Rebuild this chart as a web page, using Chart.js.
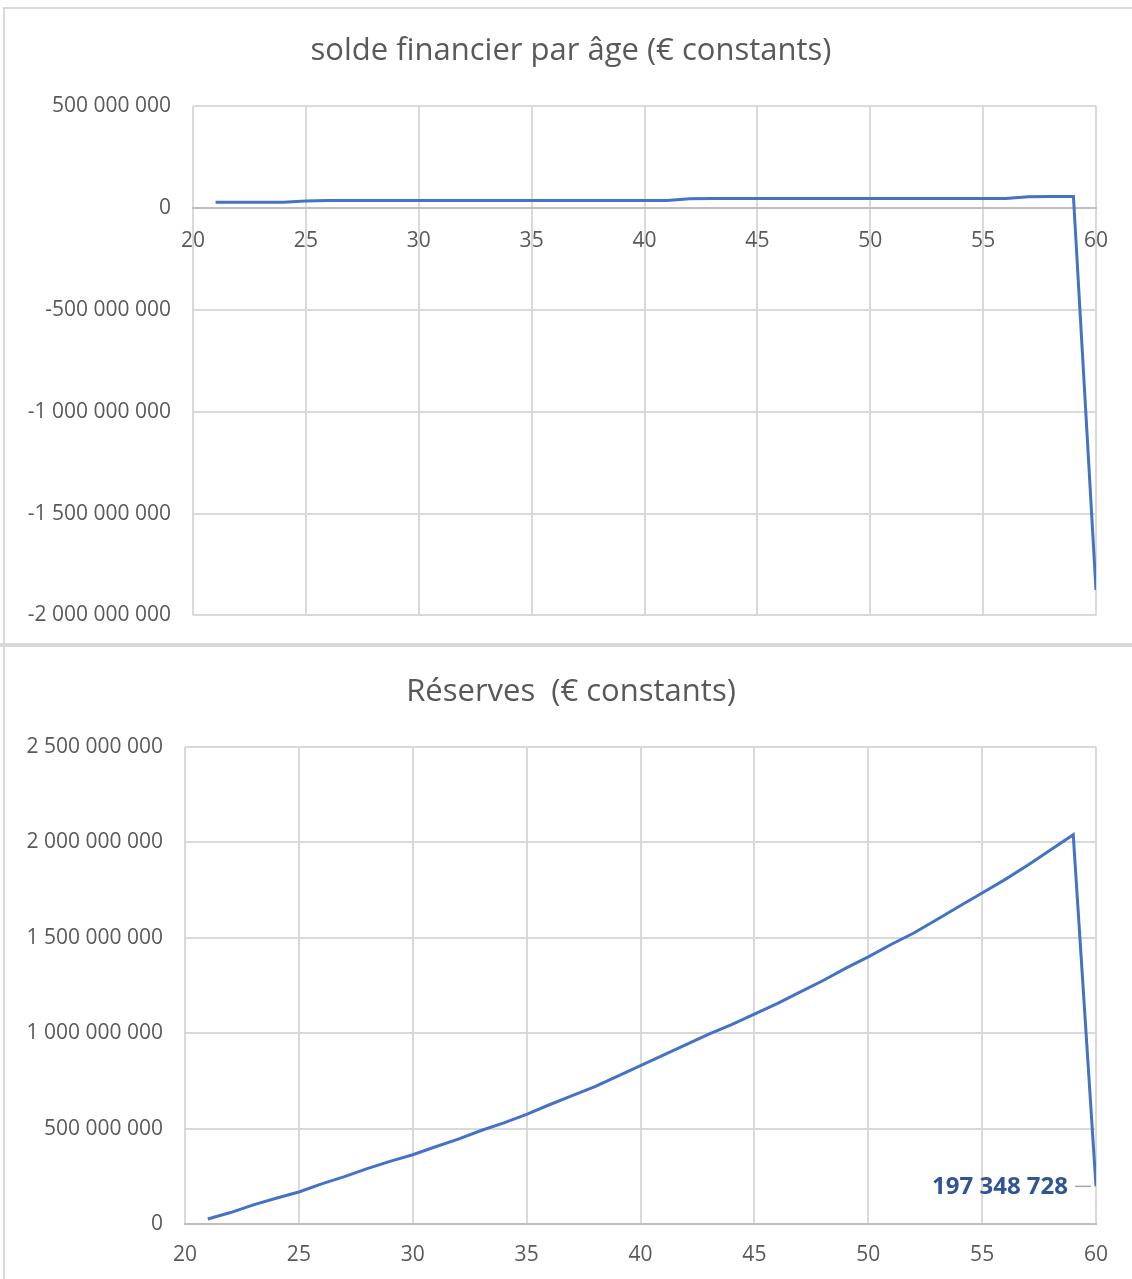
<!DOCTYPE html>
<html>
<head>
<meta charset="utf-8">
<script src="https://cdn.jsdelivr.net/npm/chart.js@4"></script>
<style>
  body { margin: 0; background: #fff; }
  #wrap { position: relative; width: 1132px; height: 1279px; overflow: hidden; }
  canvas { position: absolute; left: 0; }
  .trait { position: absolute; background: #d9d9d9; }
</style>
</head>
<body>
<div id="wrap">
  <canvas id="solde" width="1132" height="650" style="top:0"></canvas>
  <canvas id="reserves" width="1132" height="632" style="top:647px"></canvas>
  <div class="trait" style="left:3px; top:7px; width:1129px; height:2px"></div>
  <div class="trait" style="left:3px; top:7px; width:2px; height:1272px"></div>
  <div class="trait" style="left:0; top:643px; width:1132px; height:4px"></div>
</div>
<script>
// Données
var ages = [21, 22, 23, 24, 25, 26, 27, 28, 29, 30, 31, 32, 33, 34, 35, 36, 37, 38, 39, 40,
            41, 42, 43, 44, 45, 46, 47, 48, 49, 50, 51, 52, 53, 54, 55, 56, 57, 58, 59, 60];

// solde financier par âge (en €)
var solde = [28e6, 28e6, 28e6, 28e6, 34e6, 36e6, 36e6, 36e6, 36e6, 36e6,
             36e6, 36e6, 36e6, 36e6, 36e6, 36e6, 36e6, 36e6, 36e6, 36e6,
             36e6, 45e6, 46e6, 46e6, 46e6, 46e6, 46e6, 46e6, 46e6, 46e6,
             46e6, 46e6, 46e6, 46e6, 46e6, 46e6, 55e6, 56e6, 56e6, -1875e6];

// réserves (en €)
var reserves = [26e6, 60e6, 100e6, 135e6, 168e6, 210e6, 248e6, 290e6, 328e6, 363e6,
                405e6, 445e6, 490e6, 530e6, 575e6, 625e6, 673e6, 720e6, 775e6, 830e6,
                885e6, 940e6, 995e6, 1045e6, 1100e6, 1155e6, 1215e6, 1275e6, 1340e6, 1400e6,
                1465e6, 1525e6, 1595e6, 1665e6, 1735e6, 1805e6, 1880e6, 1960e6, 2040e6, 197348728];

var xTicks = [20, 25, 30, 35, 40, 45, 50, 55, 60];

var gris = '#595959';
var police = 'Open Sans';

// format français : 1 000 000
function formatFr(v) {
    var s = Math.round(Math.abs(v)).toString().replace(/\B(?=(\d{3})+(?!\d))/g, ' ');
    return (v < 0 ? '-' : '') + s;
}

function points(vals) {
    return ages.map(function(a, i) { return {x: a, y: vals[i]}; });
}

// titre dessiné à la main (centré comme dans Excel)
var titre = {
    id: 'titre',
    afterDraw: function(chart, args, opts) {
        var ctx = chart.ctx;
        ctx.save();
        ctx.fillStyle = gris;
        ctx.font = '31px "' + police + '"';
        ctx.textAlign = 'center';
        ctx.textBaseline = 'middle';
        ctx.fillText(opts.text, opts.x, opts.y);
        ctx.restore();
    }
};

function options(texte, titreY, yMin, yMax, largeurY, haut, bas, padX) {
    return {
        responsive: false,
        animation: false,
        layout: { padding: { left: 0, right: 36, top: haut, bottom: bas } },
        plugins: {
            legend: { display: false },
            tooltip: { enabled: false },
            title: { display: false },
            titre: { text: texte, x: 571, y: titreY }
        },
        scales: {
            x: {
                type: 'linear',
                min: 20, max: 60,
                position: { y: 0 },
                afterBuildTicks: function(s) { s.ticks = xTicks.map(function(v) { return {value: v}; }); },
                grid: { color: '#d9d9d9', lineWidth: 2, drawTicks: false },
                border: { color: '#bfbfbf', width: 2 },
                ticks: { color: gris, padding: padX, maxRotation: 0, font: { family: police, size: 21 } }
            },
            y: {
                min: yMin, max: yMax,
                afterFit: function(s) { s.width = largeurY; },
                grid: { color: '#d9d9d9', lineWidth: 2, drawTicks: false },
                border: { display: false },
                ticks: {
                    stepSize: 5e8,
                    color: gris,
                    padding: 22,
                    font: { family: police, size: 21 },
                    callback: function(v) { return formatFr(v); }
                }
            }
        }
    };
}

// Étiquette de la dernière valeur des réserves
var etiquette = {
    id: 'etiquette',
    afterDatasetsDraw: function(chart) {
        var pt = chart.getDatasetMeta(0).data[ages.length - 1];
        var ctx = chart.ctx;
        ctx.save();
        ctx.strokeStyle = '#a6a6a6';
        ctx.lineWidth = 1.5;
        ctx.beginPath();
        ctx.moveTo(pt.x - 21, pt.y);
        ctx.lineTo(pt.x - 5, pt.y);
        ctx.stroke();
        ctx.fillStyle = '#2f5597';
        ctx.font = 'bold 24px "' + police + '"';
        ctx.textAlign = 'right';
        ctx.textBaseline = 'middle';
        ctx.fillText(formatFr(reserves[reserves.length - 1]), pt.x - 28, pt.y + 1);
        ctx.restore();
    }
};

var ligne = { borderColor: '#4472c4', borderWidth: 3, pointRadius: 0, tension: 0, fill: false };

new Chart(document.getElementById('solde').getContext('2d'), {
    type: 'line',
    data: { datasets: [Object.assign({ label: 'solde', data: points(solde) }, ligne)] },
    options: options('solde financier par âge (€ constants)', 51, -2e9, 5e8, 193, 106, 20, 21),
    plugins: [titre]
});

new Chart(document.getElementById('reserves').getContext('2d'), {
    type: 'line',
    data: { datasets: [Object.assign({ label: 'réserves', data: points(reserves) }, ligne)] },
    options: options('Réserves  (€ constants)', 45, 0, 2.5e9, 185, 100, 55, 18),
    plugins: [titre, etiquette]
});
</script>
</body>
</html>
